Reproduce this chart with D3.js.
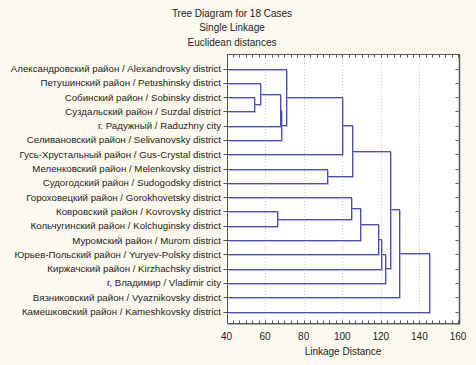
<!DOCTYPE html>
<html><head><meta charset="utf-8">
<script src="https://cdn.jsdelivr.net/npm/d3@7"></script>
<style>
html,body{margin:0;padding:0;background:#fcf9ee;}
svg{display:block;font-family:"Liberation Sans",Arial,sans-serif;}
</style></head>
<body>
<script>
const titleLines = ["Tree Diagram for 18 Cases", "Single Linkage", "Euclidean distances"];
const xTitle = "Linkage Distance";
const leaves = [
  "Александровский район / Alexandrovsky district",
  "Петушинский район / Petushinsky district",
  "Собинский район / Sobinsky district",
  "Суздальский район / Suzdal district",
  "г. Радужный / Raduzhny city",
  "Селивановский район / Selivanovsky district",
  "Гусь-Хрустальный район / Gus-Crystal district",
  "Меленковский район / Melenkovsky district",
  "Судогодский район / Sudogodsky district",
  "Гороховецкий район / Gorokhovetsky district",
  "Ковровский район / Kovrovsky district",
  "Кольчугинский район / Kolchuginsky district",
  "Муромский район / Murom district",
  "Юрьев-Польский район / Yuryev-Polsky district",
  "Киржачский район / Kirzhachsky district",
  "г, Владимир / Vladimir city",
  "Вязниковский район / Vyaznikovsky district",
  "Камешковский район / Kameshkovsky district"
];
// merges: node id = 18 + index; [childA, childB]
const mergeA = [2, 1, 10, 19, 21, 0, 7, 23, 25, 9, 27, 28, 29, 30, 26, 32, 33];
const mergeB = [3, 18, 11, 4, 5, 22, 8, 6, 24, 20, 12, 13, 14, 15, 31, 16, 17];
const mergeHeight = [54.3, 57.6, 66.2, 67.7, 68.4, 71.0, 92.2, 99.7, 104.8, 104.7, 109.2, 118.6, 120.0, 122.2, 124.6, 129.6, 145.1];
const xTicks = [40, 60, 80, 100, 120, 140, 160];

const W = 476, H = 365;
const L = 226.5, R = 458, T = 54, B = 323;
const svg = d3.select("body").append("svg").attr("width", W).attr("height", H);

const x = d3.scaleLinear().domain([40, 160]).range([L, R]);
const y = d3.scalePoint().domain(d3.range(leaves.length)).range([68.5, 311.5]);

// plot background
svg.append("rect").attr("x", L).attr("y", T).attr("width", R - L).attr("height", B - T).attr("fill", "#ffffff");

// grid
svg.append("g").selectAll("line").data(xTicks.slice(1, -1)).join("line")
  .attr("x1", d => Math.round(x(d)) + 0.5).attr("x2", d => Math.round(x(d)) + 0.5)
  .attr("y1", T).attr("y2", B)
  .attr("stroke", "#c8c8c8").attr("stroke-dasharray", "1,2");

// titles
svg.append("g").selectAll("text").data(titleLines).join("text")
  .attr("x", 232).attr("y", (d, i) => 17 + i * 14.3)
  .attr("text-anchor", "middle").attr("font-size", 10).attr("fill", "#1e1e1e").text(d => d);

// compute node positions
const nodeX = leaves.map(() => 40);
const nodeY = leaves.map((d, i) => y(i));
mergeA.forEach((a, i) => {
  nodeX.push(mergeHeight[i]);
  nodeY.push((nodeY[a] + nodeY[mergeB[i]]) / 2);
});

const segs = [];
mergeA.forEach((a, i) => {
  const b = mergeB[i], h = mergeHeight[i];
  segs.push({x1: nodeX[a], y1: nodeY[a], x2: h, y2: nodeY[a]});
  segs.push({x1: nodeX[b], y1: nodeY[b], x2: h, y2: nodeY[b]});
  segs.push({x1: h, y1: nodeY[a], x2: h, y2: nodeY[b]});
});
const snap = v => Math.round(v) + 0.5;
// shadow
svg.append("g").selectAll("line").data(segs).join("line")
  .attr("x1", d => snap(x(d.x1)) + 1).attr("x2", d => snap(x(d.x2)) + 1)
  .attr("y1", d => snap(d.y1) + 1).attr("y2", d => snap(d.y2) + 1)
  .attr("stroke", "#b9b9e2").attr("stroke-width", 1);
svg.append("g").selectAll("line").data(segs).join("line")
  .attr("x1", d => snap(x(d.x1))).attr("x2", d => snap(x(d.x2)))
  .attr("y1", d => snap(d.y1)).attr("y2", d => snap(d.y2))
  .attr("stroke", "#4d4db4").attr("stroke-width", 1).attr("stroke-linecap", "square");

// frame
svg.append("line").attr("x1", R + 1.5).attr("x2", R + 1.5).attr("y1", T + 1).attr("y2", B + 2).attr("stroke", "#b0b0b0").attr("stroke-width", 2);
svg.append("line").attr("x1", L + 1).attr("x2", R + 2).attr("y1", B + 1.5).attr("y2", B + 1.5).attr("stroke", "#b0b0b0").attr("stroke-width", 1);
svg.append("rect").attr("x", snap(L)).attr("y", snap(T)).attr("width", Math.round(R - L)).attr("height", Math.round(B - T))
  .attr("fill", "none").attr("stroke", "#555");

// minor ticks top & bottom
const minor = d3.range(40, 160.01, 20 / 6);
svg.append("g").selectAll("line").data(minor).join("line")
  .attr("x1", d => snap(x(d))).attr("x2", d => snap(x(d)))
  .attr("y1", snap(B)).attr("y2", snap(B) - 3).attr("stroke", "#555");
svg.append("g").selectAll("line").data(minor).join("line")
  .attr("x1", d => snap(x(d))).attr("x2", d => snap(x(d)))
  .attr("y1", snap(T)).attr("y2", snap(T) + 3).attr("stroke", "#555");

// x axis labels
svg.append("g").selectAll("text").data(xTicks).join("text")
  .attr("x", d => x(d)).attr("y", 339.5).attr("text-anchor", "middle")
  .attr("font-size", 10).attr("fill", "#1e1e1e").text(d => d);
svg.append("text").attr("x", 343).attr("y", 355).attr("text-anchor", "middle")
  .attr("font-size", 10).attr("fill", "#1e1e1e").text(xTitle);

// y ticks
svg.append("g").selectAll("line").data(d3.range(leaves.length)).join("line")
  .attr("x1", snap(L) - 4).attr("x2", snap(L))
  .attr("y1", d => snap(y(d))).attr("y2", d => snap(y(d))).attr("stroke", "#555");
svg.append("g").selectAll("line").data(d3.range(leaves.length)).join("line")
  .attr("x1", snap(R) - 3).attr("x2", snap(R))
  .attr("y1", d => snap(y(d))).attr("y2", d => snap(y(d))).attr("stroke", "#555");

// leaf labels
svg.append("g").selectAll("text").data(leaves).join("text")
  .attr("x", 221).attr("y", (d, i) => y(i) + 3.5).attr("text-anchor", "end")
  .attr("font-size", 9.7).attr("fill", "#1e1e1e").text(d => d);
</script>
</body></html>
